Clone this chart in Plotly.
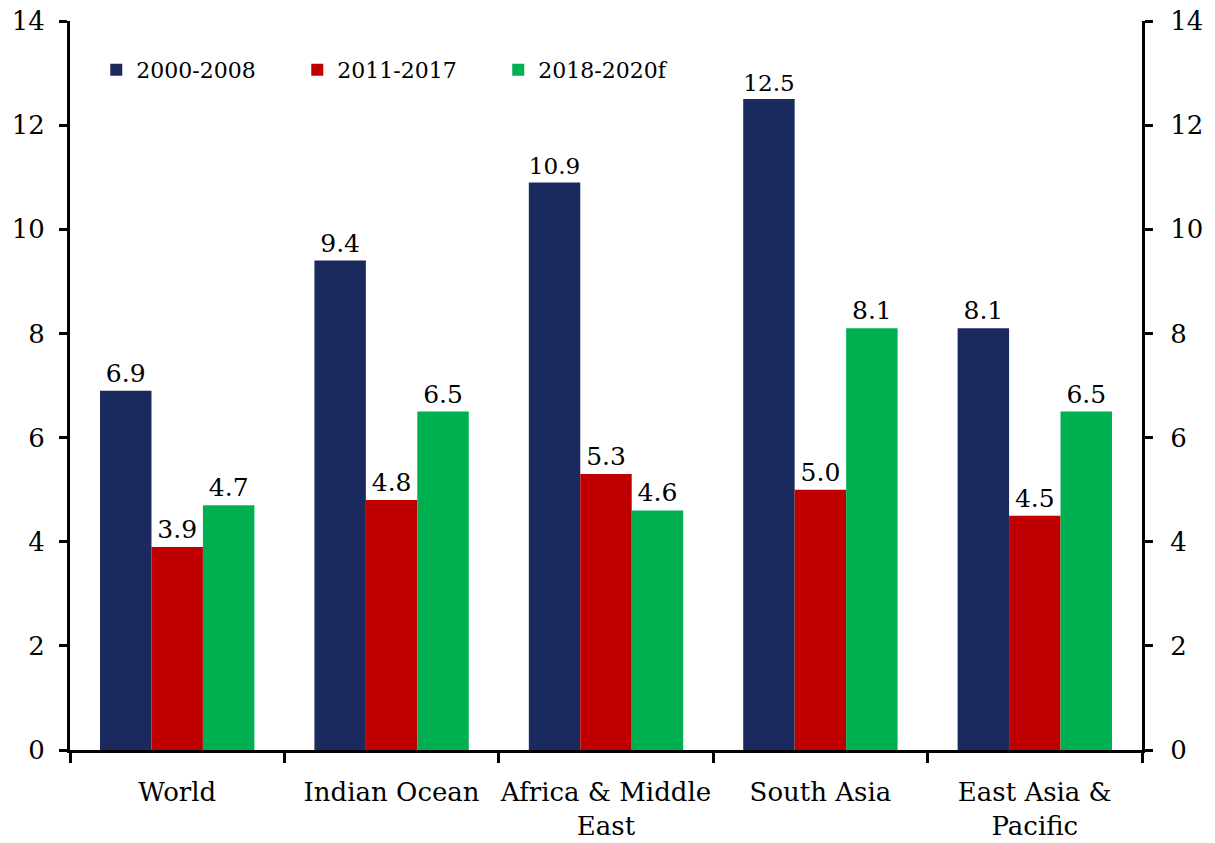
import plotly.graph_objects as go

categories = ["World", "Indian Ocean", "Africa & Middle<br>East", "South Asia", "East Asia &<br>Pacific"]
series_names = ["2000-2008", "2011-2017", "2018-2020f"]
vals_2000_2008 = [6.9, 9.4, 10.9, 12.5, 8.1]
vals_2011_2017 = [3.9, 4.8, 5.3, 5.0, 4.5]
vals_2018_2020f = [4.7, 6.5, 4.6, 8.1, 6.5]
colors = ["#1b2a5e", "#c00000", "#00b050"]

FONT = "DejaVu Serif"

fig = go.Figure()
for name, vals, col in zip(series_names, [vals_2000_2008, vals_2011_2017, vals_2018_2020f], colors):
    fig.add_trace(go.Bar(
        x=categories, y=vals, name=name,
        marker=dict(color=col, line=dict(width=0)),
        text=vals, texttemplate="%{y:.1f}", textposition="outside",
        textfont=dict(size=25, color="black", family=FONT),
        cliponaxis=False,
    ))

# invisible trace so the right-hand axis is drawn
fig.add_trace(go.Scatter(
    x=categories, y=vals_2000_2008, yaxis="y2", mode="markers",
    marker=dict(opacity=0), showlegend=False, hoverinfo="skip",
))

axis_common = dict(
    range=[0, 14], dtick=2, showgrid=False, zeroline=False,
    showline=True, linecolor="black", linewidth=3,
    ticks="outside", ticklen=8, tickwidth=3, tickcolor="black",
    tickfont=dict(size=26, color="black", family=FONT),
    automargin=False, ticklabeloverflow="allow",
)

fig.update_layout(
    width=1215, height=843,
    margin=dict(l=70, r=73, t=21, b=93),
    plot_bgcolor="white", paper_bgcolor="white",
    barmode="group", bargap=0.28, bargroupgap=0,
    font=dict(family=FONT, color="black"),
    xaxis=dict(
        showline=True, linecolor="black", linewidth=3,
        ticks="outside", ticklen=10, tickwidth=3, tickcolor="black",
        tickson="boundaries", showgrid=False, automargin=False,
        tickangle=0,
        tickfont=dict(size=26, color="black", family=FONT),
        ticklabelstandoff=17,
    ),
    yaxis=dict(**axis_common, ticklabelstandoff=9),
    yaxis2=dict(**axis_common, overlaying="y", side="right", ticklabelstandoff=12),
    legend=dict(
        orientation="h", x=0.0245, y=0.933, xanchor="left", yanchor="middle",
        font=dict(size=22, color="black", family=FONT),
        entrywidth=156, entrywidthmode="pixels",
        bgcolor="rgba(0,0,0,0)", itemwidth=30,
    ),
)

# drop the default page margin so the figure sits at the window's corner
fig.write_html("out.html", config={"displayModeBar": False},
               post_script="document.body.style.margin='0';")
